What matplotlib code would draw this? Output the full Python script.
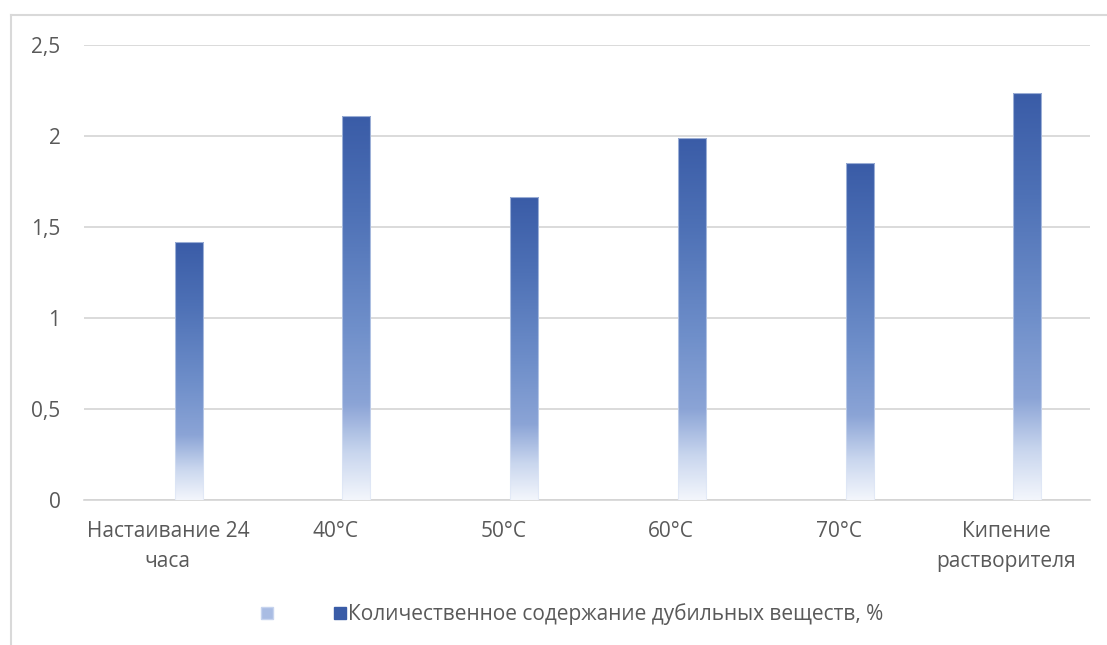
import numpy as np
import matplotlib.pyplot as plt
from matplotlib.colors import LinearSegmentedColormap
from matplotlib.patches import Rectangle
from matplotlib.lines import Line2D

plt.rcParams['font.family'] = ['Open Sans', 'DejaVu Sans']

categories = ['Настаивание 24\nчаса', '40°C', '50°C', '60°C', '70°C', 'Кипение\nрастворителя']
values = [1.42, 2.11, 1.665, 1.99, 1.85, 2.235]
series_label = 'Количественное содержание дубильных веществ, %'
yticks = [0, 0.5, 1, 1.5, 2, 2.5]
ytick_labels = ['0', '0,5', '1', '1,5', '2', '2,5']

# vertical gradient: pale at the base, dark blue at the top
grad = LinearSegmentedColormap.from_list(
    'bar_grad',
    [(0.0, '#f3f6fc'), (0.12, '#c9d6ee'), (0.25, '#8ba4d6'),
     (0.45, '#6f8fca'), (0.75, '#4e71b6'), (1.0, '#3a5ca7')])

fig = plt.figure(figsize=(11.07, 6.45), dpi=100)
ax = fig.add_axes([0.0759, 0.2248, 0.9088, 0.7052])

bar_w = 0.167
offset = 0.125  # visible series sits in the right slot of each group (first series is empty)
x = np.arange(len(categories))
bars = ax.bar(x + offset, values, width=bar_w, color='none', edgecolor='none', zorder=3)
gradient = np.linspace(0, 1, 256).reshape(-1, 1)
for b in bars:
    x0, w, h = b.get_x(), b.get_width(), b.get_height()
    im = ax.imshow(gradient, cmap=grad, origin='lower', aspect='auto',
                   extent=(x0, x0 + w, 0, h), zorder=3, interpolation='bilinear')
    im.set_clip_path(b)
    ax.add_patch(Rectangle((x0, 0), w, h, fill=False, edgecolor='#dbe4f5',
                           linewidth=0.8, alpha=0.6, zorder=4))
ax.set_xlim(-0.5, len(categories) - 0.5)
ax.set_ylim(0, 2.5)

ax.set_yticks(yticks)
ax.set_yticklabels(ytick_labels)
ax.set_xticks(x)
ax.set_xticklabels(categories, linespacing=1.6)
ax.tick_params(axis='both', length=0, labelsize=15, labelcolor='#595959')
ax.tick_params(axis='y', pad=17)
ax.tick_params(axis='x', pad=15)
ax.grid(axis='y', color='#d4d4d4', linewidth=1.2, zorder=0)
for s in ['top', 'right', 'left']:
    ax.spines[s].set_visible(False)
ax.spines['bottom'].set_color('#d4d4d4')
ax.spines['bottom'].set_linewidth(1.2)

handles = [
    Line2D([], [], marker='s', linestyle='none', markersize=8,
           markerfacecolor='#a9bce3', markeredgecolor='#c6d3ee'),
    Line2D([], [], marker='s', linestyle='none', markersize=8,
           markerfacecolor='#3a5ca7', markeredgecolor='#3a5ca7'),
]
fig.legend(handles, ['', series_label], loc='center', bbox_to_anchor=(0.516, 0.048),
           ncol=2, frameon=False, fontsize=15, labelcolor='#595959',
           handletextpad=0.0, columnspacing=2.7, handlelength=0.8)

# outer chart frame (top and left edges)
fig.add_artist(Line2D([0.0095, 0.0095], [0.0, 0.977], transform=fig.transFigure,
                      color='#d9d9d9', linewidth=1.5))
fig.add_artist(Line2D([0.0095, 1.0], [0.977, 0.977], transform=fig.transFigure,
                      color='#d9d9d9', linewidth=1.5))

fig.savefig('out.png', dpi=100)
